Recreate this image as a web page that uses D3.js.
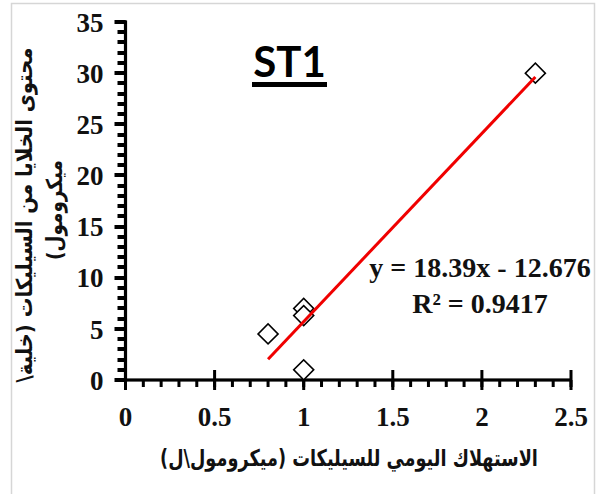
<!DOCTYPE html>
<html>
<head>
<meta charset="utf-8">
<script src="https://cdn.jsdelivr.net/npm/d3@7/dist/d3.min.js"></script>
<style>
  html, body { margin: 0; padding: 0; background: #fff; }
  svg { display: block; }
</style>
</head>
<body>
<svg id="chart" width="602" height="494"></svg>
<script>
// ---- data ----
const xValues = [0.8, 1.0, 1.0, 1.0, 2.3];
const yValues = [4.5, 7.0, 6.3, 1.0, 30.0];
const xTicks = [0, 0.5, 1, 1.5, 2, 2.5];
const yTicks = [0, 5, 10, 15, 20, 25, 30, 35];
const chartTitle = "ST1";
const xTitle = "الاستهلاك اليومي للسيليكات (ميكرومول\\ل)";
const yTitleLines = ["محتوى  الخلايا من السيليكات (خلية\\", "ميكرومول)"];
const eqLines = ["y = 18.39x - 12.676", "R² = 0.9417"];

// ---- layout ----
const svg = d3.select("#chart");
const plotL = 125.5, plotR = 571, plotT = 22, plotB = 380;

svg.append("rect").attr("x", 11.5).attr("y", 3.5).attr("width", 583).attr("height", 500)
  .attr("fill", "#fff").attr("stroke", "#d6d6d6").attr("stroke-width", 1.5);

const x = d3.scaleLinear().domain([0, 2.5]).range([plotL, plotR]);
const y = d3.scaleLinear().domain([0, 35]).range([plotB, plotT]);

const serif = "'Liberation Serif', 'Times New Roman', serif";

const yMinor = d3.range(0, 36, 1);
const xMinor = d3.range(0, 26, 1).map(i => i / 10);

// Y ticks as rects (outside, left)
const yt = svg.append("g").attr("fill", "#000");
yt.selectAll("rect.ymin").data(yMinor).join("rect").attr("class", "ymin")
  .attr("x", plotL - 8).attr("width", 8).attr("y", d => Math.round(y(d)) - 2).attr("height", 4);
yt.selectAll("rect.ymaj").data(yTicks).join("rect").attr("class", "ymaj")
  .attr("x", plotL - 11).attr("width", 11).attr("y", d => Math.round(y(d)) - 2).attr("height", 4);

// X ticks (minor below, major crossing)
const xt2 = svg.append("g").attr("fill", "#000");
xt2.selectAll("rect.xmin").data(xMinor).join("rect").attr("class", "xmin")
  .attr("x", d => x(d) - 1.5).attr("width", 3).attr("y", plotB).attr("height", 7);
xt2.selectAll("rect.xmaj").data(xTicks).join("rect").attr("class", "xmaj")
  .attr("x", d => x(d) - 1.5).attr("width", 3).attr("y", plotB - 10).attr("height", 20);

// axis lines
svg.append("rect").attr("x", plotL - 1.6).attr("width", 3.2)
  .attr("y", plotT - 1.6).attr("height", plotB - plotT + 3.2).attr("fill", "#000");
svg.append("rect").attr("x", plotL - 1.6).attr("width", plotR - plotL + 1.6)
  .attr("y", plotB - 1.6).attr("height", 3.2).attr("fill", "#000");

// tick labels
svg.append("g").selectAll("text").data(yTicks).join("text")
  .attr("x", plotL - 22).attr("y", d => y(d)).attr("dy", "0.36em")
  .attr("text-anchor", "end").attr("font-family", serif).attr("font-weight", "bold")
  .attr("font-size", 27).attr("fill", "#111").text(d3.format("d"));
svg.append("g").selectAll("text").data(xTicks).join("text")
  .attr("x", d => x(d)).attr("y", plotB + 46)
  .attr("text-anchor", "middle").attr("font-family", serif).attr("font-weight", "bold")
  .attr("font-size", 27).attr("fill", "#111").text(d => String(d));

// ---- points ----
const pts = xValues.map((v, i) => ({ x: v, y: yValues[i] }));
const diamond = d3.symbol().type(d3.symbolSquare).size(200);
svg.append("g").selectAll("path").data(pts).join("path")
  .attr("d", diamond)
  .attr("transform", d => `translate(${x(d.x)},${y(d.y)}) rotate(45)`)
  .attr("fill", "#fff").attr("stroke", "#000").attr("stroke-width", 1.6);

// ---- linear trend line (least squares from data) ----
const mx = d3.mean(xValues), my = d3.mean(yValues);
const sxy = d3.sum(xValues, (v, i) => (v - mx) * (yValues[i] - my));
const sxx = d3.sum(xValues, v => (v - mx) * (v - mx));
const slope = sxy / sxx, icpt = my - slope * mx;
const [xmin, xmax] = d3.extent(xValues);
svg.append("line")
  .attr("x1", x(xmin)).attr("y1", y(slope * xmin + icpt))
  .attr("x2", x(xmax)).attr("y2", y(slope * xmax + icpt))
  .attr("stroke", "#f00000").attr("stroke-width", 3);

// ---- equation ----
svg.append("g").selectAll("text").data(eqLines).join("text")
  .attr("x", 480).attr("y", (d, i) => 277 + i * 36)
  .attr("text-anchor", "middle")
  .attr("font-family", serif).attr("font-weight", "bold").attr("font-size", 28)
  .attr("fill", "#111").text(d => d);

// ---- title ----
svg.append("text").attr("x", 289.5).attr("y", 77).attr("text-anchor", "middle")
  .attr("font-family", "Lato, 'Open Sans', sans-serif").attr("font-weight", "bold")
  .attr("font-size", 42).attr("fill", "#000").text(chartTitle);
svg.append("rect").attr("x", 252).attr("y", 82).attr("width", 75).attr("height", 5).attr("fill", "#000");

// ---- arabic axis titles, fitted to measured widths ----
function fitText(sel, target) {
  const w = sel.node().getComputedTextLength();
  return w > 0 ? target / w : 1;
}
const arabicFont = "'DejaVu Sans', 'Noto Sans', sans-serif";

const xtt = svg.append("text").attr("text-anchor", "middle").attr("direction", "rtl")
  .attr("font-family", arabicFont).attr("font-weight", "bold").attr("font-size", 23)
  .attr("fill", "#111").text(xTitle);
const sxScale = fitText(xtt, 378);
xtt.attr("transform", `translate(349,466) scale(${sxScale},1)`);

const yLineX = [32, 62];
const yLineW = [335, 100];
const yLineCY = [215, 210];
yTitleLines.forEach((t, i) => {
  const el = svg.append("text").attr("text-anchor", "middle").attr("direction", "rtl")
    .attr("font-family", arabicFont).attr("font-weight", "bold").attr("font-size", 22)
    .attr("fill", "#111").text(t);
  const s = fitText(el, yLineW[i]);
  el.attr("transform", `translate(${yLineX[i]},${yLineCY[i]}) rotate(-90) scale(${s},1)`);
});
</script>
</body>
</html>
